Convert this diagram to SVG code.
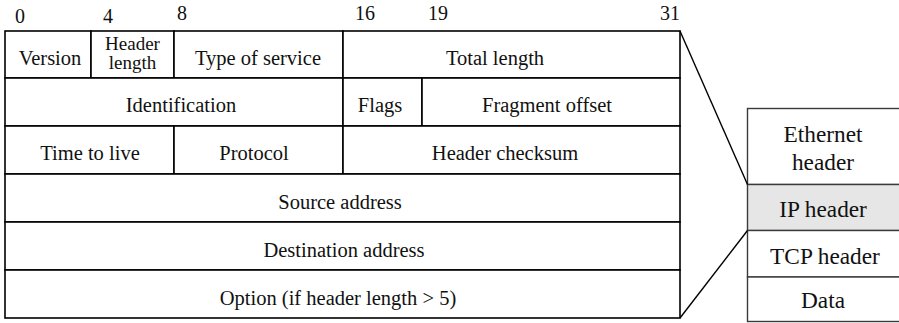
<svg xmlns="http://www.w3.org/2000/svg" width="899" height="323" viewBox="0 0 899 323">
  <style>
    text { font-family: "Liberation Serif", "Times New Roman", serif; fill: #111; }
    .lbl { font-size: 20.5px; text-anchor: middle; }
    .lbl2 { font-size: 19px; text-anchor: middle; }
    .bit { font-size: 20px; }
    .stk { font-size: 23.3px; text-anchor: middle; }
    .cell { fill: #fff; stroke: #000; stroke-width: 1.6; }
    .layer { fill: #fff; stroke: #3a3a3a; stroke-width: 1.4; }
    .layer.hl { fill: #e6e6e6; }
    .conn { stroke: #000; stroke-width: 1.4; fill: none; }
  </style>
  <rect width="899" height="323" fill="#fff"/>

  <!-- bit positions -->
  <g id="bit-scale">
    <text class="bit" x="15" y="23">0</text>
    <text class="bit" x="103" y="23">4</text>
    <text class="bit" x="177" y="20">8</text>
    <text class="bit" x="355" y="20">16</text>
    <text class="bit" x="428" y="20">19</text>
    <text class="bit" x="680" y="20" text-anchor="end">31</text>
  </g>

  <!-- IPv4 header layout, one 32-bit word per row -->
  <g id="ip-header-format">
    <g id="f-version"><rect class="cell" x="5" y="31" width="86" height="47"/><text class="lbl" x="50" y="65">Version</text></g>
    <g id="f-header-length"><rect class="cell" x="91" y="31" width="83" height="47"/><text class="lbl2" x="132.5" y="50">Header</text><text class="lbl2" x="132.5" y="69">length</text></g>
    <g id="f-tos"><rect class="cell" x="174" y="31" width="169" height="47"/><text class="lbl" x="258" y="65">Type of service</text></g>
    <g id="f-total-length"><rect class="cell" x="343" y="31" width="337" height="47"/><text class="lbl" x="495" y="65">Total length</text></g>

    <g id="f-identification"><rect class="cell" x="5" y="78" width="338" height="48"/><text class="lbl" x="181" y="112">Identification</text></g>
    <g id="f-flags"><rect class="cell" x="343" y="78" width="79" height="48"/><text class="lbl" x="380" y="112">Flags</text></g>
    <g id="f-fragment-offset"><rect class="cell" x="422" y="78" width="258" height="48"/><text class="lbl" x="547" y="112">Fragment offset</text></g>

    <g id="f-ttl"><rect class="cell" x="5" y="126" width="169" height="48"/><text class="lbl" x="90" y="160">Time to live</text></g>
    <g id="f-protocol"><rect class="cell" x="174" y="126" width="169" height="48"/><text class="lbl" x="254" y="160">Protocol</text></g>
    <g id="f-checksum"><rect class="cell" x="343" y="126" width="337" height="48"/><text class="lbl" x="505" y="160">Header checksum</text></g>

    <g id="f-source"><rect class="cell" x="5" y="174" width="675" height="48"/><text class="lbl" x="340" y="209">Source address</text></g>
    <g id="f-destination"><rect class="cell" x="5" y="222" width="675" height="48"/><text class="lbl" x="344" y="257">Destination address</text></g>
    <g id="f-option"><rect class="cell" x="5" y="270" width="675" height="48"/><text class="lbl" x="338" y="305">Option (if header length &gt; 5)</text></g>
  </g>

  <!-- frame layers -->
  <g id="frame-stack">
    <g id="l-ethernet"><rect class="layer" x="747.5" y="108.5" width="170" height="76"/><text class="stk" x="823" y="141.5">Ethernet</text><text class="stk" x="823" y="170">header</text></g>
    <g id="l-ip"><rect class="layer hl" x="747.5" y="184.5" width="170" height="46"/><text class="stk" x="823" y="216.5">IP header</text></g>
    <g id="l-tcp"><rect class="layer" x="747.5" y="230.5" width="170" height="46.5"/><text class="stk" x="825" y="263.5">TCP header</text></g>
    <g id="l-data"><rect class="layer" x="747.5" y="277" width="170" height="44.5"/><text class="stk" x="823" y="308">Data</text></g>
  </g>

  <!-- expansion lines from the IP layer to the header layout -->
  <g id="connectors">
    <line class="conn" x1="680" y1="31" x2="747.5" y2="184.5"/>
    <line class="conn" x1="680" y1="318" x2="747.5" y2="230.5"/>
  </g>
</svg>
